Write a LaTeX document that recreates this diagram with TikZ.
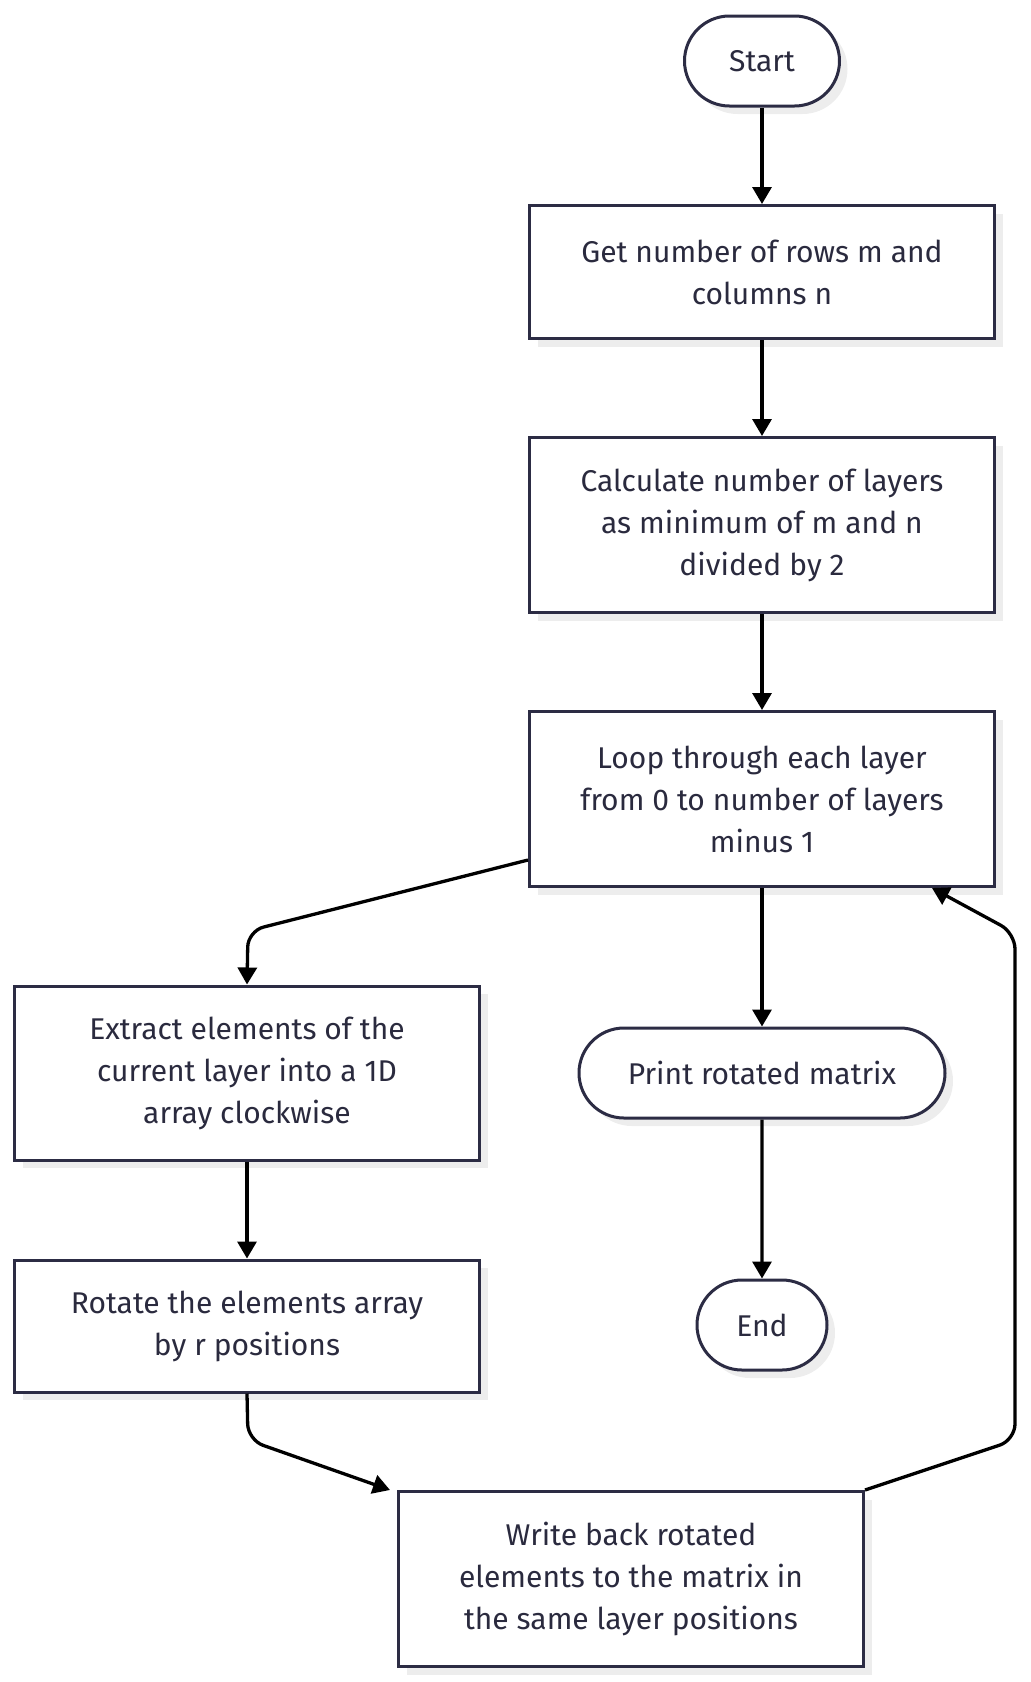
\documentclass[tikz,border=0pt]{standalone}
\usepackage{fontspec}
\setmainfont{Fira Sans}
\usepackage{xcolor}
\usetikzlibrary{
  positioning, arrows.meta, shadows, calc, shapes.misc
}
\definecolor{edge}{HTML}{2C2C44}
\definecolor{ink}{HTML}{2A2A3E}
\definecolor{shade}{HTML}{EDEDED}

\begin{document}
\begin{tikzpicture}
    [x=1pt, y=1pt,
     font=\fontsize{30}{42}\selectfont, text=ink,
     stepbox/.style={rectangle, draw=edge, line width=3pt, fill=white,
       minimum width=465pt, align=center,
       drop shadow={shadow xshift=8pt, shadow yshift=-8pt, fill=shade, opacity=1}},
     term/.style={rounded rectangle, draw=edge, line width=3pt, fill=white,
       minimum height=90pt, inner xsep=10pt,
       drop shadow={shadow xshift=8pt, shadow yshift=-8pt, fill=shade, opacity=1}},
     flow/.style={-{Triangle[length=17pt, width=19pt]}, line width=3.3pt, black,
       rounded corners=16pt}]
    \useasboundingbox (0,0) rectangle (1031,-1682);
    \node (start) at (762,-61) [term, minimum width=175pt] {Start};
    \node (rows) at (762,-272) [stepbox, minimum height=133pt] {Get number of rows m and\\columns n};
    \node (layers) at (762,-525) [stepbox, minimum height=175pt] {Calculate number of layers\\as minimum of m and n\\divided by 2};
    \node (loop) at (762,-799) [stepbox, minimum height=175pt] {Loop through each layer\\from 0 to number of layers\\minus 1};
    \node (extract) at (247,-1073) [stepbox, minimum height=174pt] {Extract elements of the\\current layer into a 1D\\array clockwise};
    \node (print) at (762,-1073) [term, minimum width=386pt] {Print rotated matrix};
    \node (rotate) at (247,-1326) [stepbox, minimum height=132pt] {Rotate the elements array\\by r positions};
    \node (end) at (762,-1325) [term, minimum width=150pt] {End};
    \node (write) at (631,-1579) [stepbox, minimum height=175pt] {Write back rotated\\elements to the matrix in\\the same layer positions};
    \draw [flow] (start) -- (rows);
    \draw [flow] (rows) -- (layers);
    \draw [flow] (layers) -- (loop);
    \draw [flow] (loop) -- (print);
    \draw [flow] (print) -- (end);
    \draw [flow] (extract) -- (rotate);
    \draw [flow] ([yshift=-61pt]loop.west) -- (248,-931) -- (extract.north);
    \draw [flow] (rotate.south) -- (248,-1440) -- ([xshift=-7pt]write.north west);
    \draw [flow] (write.north east) -- (1015,-1440) -- (1015,-933) -- ([xshift=-64pt]loop.south east);
\end{tikzpicture}
\end{document}
